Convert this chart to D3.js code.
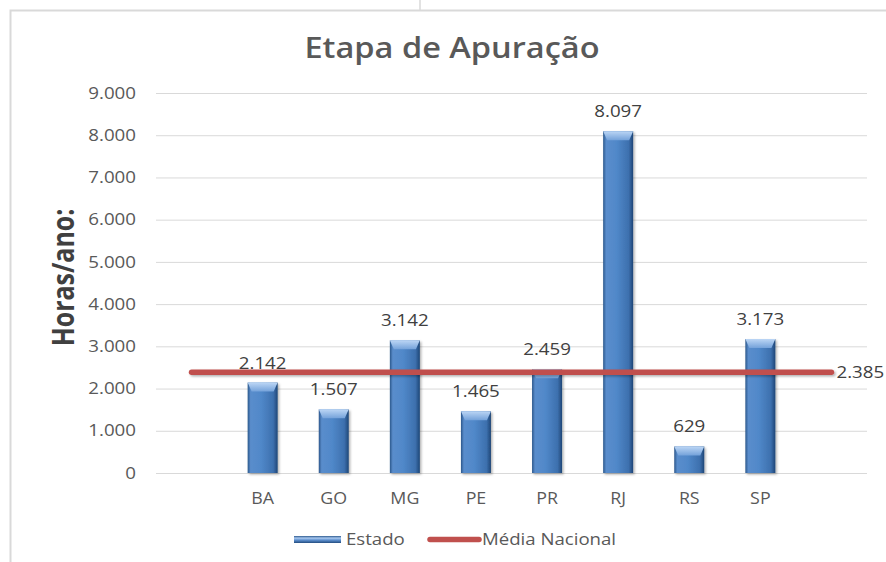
<!DOCTYPE html>
<html>
<head>
<meta charset="utf-8">
<script src="https://cdn.jsdelivr.net/npm/d3@7"></script>
<style>
  html, body { margin: 0; padding: 0; background: #ffffff; }
  svg { display: block; }
  text { font-family: "Open Sans", "Noto Sans", sans-serif; }
</style>
</head>
<body>
<svg id="chart" width="886" height="562"></svg>
<script>
// Categories: empty slots at both ends keep the average line running past the bars
const categories = ["", "BA", "GO", "MG", "PE", "PR", "RJ", "RS", "SP", ""];
// Hours per year for each state (null where the slot has no bar)
const estadoValues = [null, 2142, 1507, 3142, 1465, 2459, 8097, 629, 3173, null];
// National average, one value per slot
const mediaValues = [2385, 2385, 2385, 2385, 2385, 2385, 2385, 2385, 2385, 2385];
const yTicks = [0, 1000, 2000, 3000, 4000, 5000, 6000, 7000, 8000, 9000];

const title = "Etapa de Apuração";
const yTitle = "Horas/ano:";
const legendLabels = ["Estado", "Média Nacional"];

const fmt = v => d3.format(",")(v).replace(/,/g, ".");
const SX = 1.15;                       // horizontal stretch applied to text glyphs

const svg = d3.select("#chart");
const W = 886, H = 562;
const plot = { left: 156, right: 867, top: 93, bottom: 473 };

// Writes stretched text anchored at (x, y)
function label(parent, x, y, txt, size, opts = {}) {
  return parent.append("text")
    .attr("transform", `translate(${x},${y}) scale(${SX},1)`)
    .attr("text-anchor", opts.anchor || "start")
    .attr("font-size", size)
    .attr("font-weight", opts.weight || 400)
    .attr("fill", opts.fill || "#595959")
    .text(txt);
}

// Frame of the chart area
svg.append("line").attr("x1", 420).attr("x2", 420).attr("y1", 0).attr("y2", 10)
  .attr("stroke", "#d9d9d9").attr("stroke-width", 1.5);
svg.append("path")
  .attr("d", `M10.5,${H + 5} V10.5 H${W + 5}`)
  .attr("fill", "none").attr("stroke", "#d9d9d9").attr("stroke-width", 2);

const defs = svg.append("defs");

// Horizontal shading across a bar body
const gBody = defs.append("linearGradient").attr("id", "barBody")
  .attr("x1", "0").attr("x2", "1").attr("y1", "0").attr("y2", "0");
[["0%", "#2b578b"], ["10%", "#5a8dcc"], ["45%", "#5088c9"], ["85%", "#3d70ae"], ["100%", "#1f4677"]]
  .forEach(([o, c]) => gBody.append("stop").attr("offset", o).attr("stop-color", c));

// Lighter bevel at the bar top
const gTop = defs.append("linearGradient").attr("id", "barTop")
  .attr("x1", "0").attr("x2", "0").attr("y1", "0").attr("y2", "1");
[["0%", "#bcd6f5"], ["100%", "#74a2da"]]
  .forEach(([o, c]) => gTop.append("stop").attr("offset", o).attr("stop-color", c));

// Legend swatch shading
const gLeg = defs.append("linearGradient").attr("id", "legSwatch")
  .attr("x1", "0").attr("x2", "0").attr("y1", "0").attr("y2", "1");
[["0%", "#2e5a8e"], ["30%", "#a9c9f0"], ["60%", "#5b8dcc"], ["100%", "#244d80"]]
  .forEach(([o, c]) => gLeg.append("stop").attr("offset", o).attr("stop-color", c));

const shadow = defs.append("filter").attr("id", "shadow")
  .attr("filterUnits", "userSpaceOnUse")
  .attr("x", 0).attr("y", 0).attr("width", W).attr("height", H);
shadow.append("feDropShadow").attr("dx", 1.5).attr("dy", 1.5).attr("stdDeviation", 1.2)
  .attr("flood-color", "#000").attr("flood-opacity", 0.3);

const x = d3.scaleBand().domain(d3.range(categories.length))
  .range([plot.left, plot.right]).paddingInner(0.578).paddingOuter(0.289);
const y = d3.scaleLinear().domain([0, 9000]).range([plot.bottom, plot.top]);

// Title
label(svg, 452, 58, title, 28.3, { anchor: "middle", weight: 600 });

// Y-axis title
svg.append("text")
  .attr("transform", `translate(74,277.5) scale(${SX},0.96) rotate(-90)`)
  .attr("text-anchor", "middle").attr("font-size", 26).attr("font-weight", 700)
  .attr("fill", "#404040").text(yTitle);

// Gridlines and tick labels
const yAxis = d3.axisLeft(y).tickValues(yTicks).tickSize(-(plot.right - plot.left))
  .tickFormat(fmt);
const gy = svg.append("g").attr("transform", `translate(${plot.left},0)`).call(yAxis);
gy.select(".domain").remove();
gy.selectAll(".tick line").attr("stroke", "#d9d9d9").attr("stroke-width", 1);
gy.selectAll(".tick text")
  .attr("x", -20 / SX).attr("transform", `scale(${SX},1)`)
  .attr("font-size", 16.3).attr("fill", "#595959")
  .attr("font-family", "'Open Sans', sans-serif");

// Category labels
const xAxis = d3.axisBottom(x).tickSize(0).tickPadding(0).tickFormat(i => categories[i]);
const gx = svg.append("g").attr("transform", `translate(0,${plot.bottom + 20})`).call(xAxis);
gx.select(".domain").remove();
gx.selectAll(".tick text").attr("transform", `scale(${SX},1)`)
  .attr("font-size", 15.5).attr("fill", "#595959")
  .attr("font-family", "'Open Sans', sans-serif");

// Bars
const barData = estadoValues.map((v, i) => ({ i, v })).filter(d => d.v !== null);
const bars = svg.append("g").selectAll("g").data(barData).join("g");
bars.append("rect")
  .attr("x", d => x(d.i)).attr("width", x.bandwidth())
  .attr("y", d => y(d.v)).attr("height", d => y(0) - y(d.v))
  .attr("fill", "url(#barBody)").attr("filter", "url(#shadow)");
bars.append("path")
  .attr("d", d => {
    const x0 = x(d.i), x1 = x0 + x.bandwidth(), t = y(d.v), b = 4, h = 9;
    return `M${x0},${t} H${x1} L${x1 - b},${t + h} H${x0 + b} Z`;
  })
  .attr("fill", "url(#barTop)");

// Value labels above bars
const vl = svg.append("g");
barData.forEach(d => {
  label(vl, x(d.i) + x.bandwidth() / 2, y(d.v) - 14, fmt(d.v), 16.3,
    { anchor: "middle", fill: "#404040" });
});

// National average line
const line = d3.line().x((d, i) => x(i) + x.bandwidth() / 2).y(d => y(d));
svg.append("path").datum(mediaValues).attr("d", line)
  .attr("fill", "none").attr("stroke", "#c0504d").attr("stroke-width", 5.5)
  .attr("stroke-linecap", "round").attr("filter", "url(#shadow)");
const last = mediaValues.length - 1;
label(svg, x(last) + x.bandwidth() / 2 + 5, y(mediaValues[last]) + 6,
  fmt(mediaValues[last]), 16.3, { fill: "#404040" });

// Legend
const lg = svg.append("g");
lg.append("rect").attr("x", 294).attr("y", 536).attr("width", 47).attr("height", 7)
  .attr("fill", "url(#legSwatch)");
label(lg, 346, 545, legendLabels[0], 16.2);
lg.append("line").attr("x1", 430).attr("x2", 479).attr("y1", 539.5).attr("y2", 539.5)
  .attr("stroke", "#c0504d").attr("stroke-width", 5.5).attr("stroke-linecap", "round");
label(lg, 482, 545, legendLabels[1], 16.2);
</script>
</body>
</html>
